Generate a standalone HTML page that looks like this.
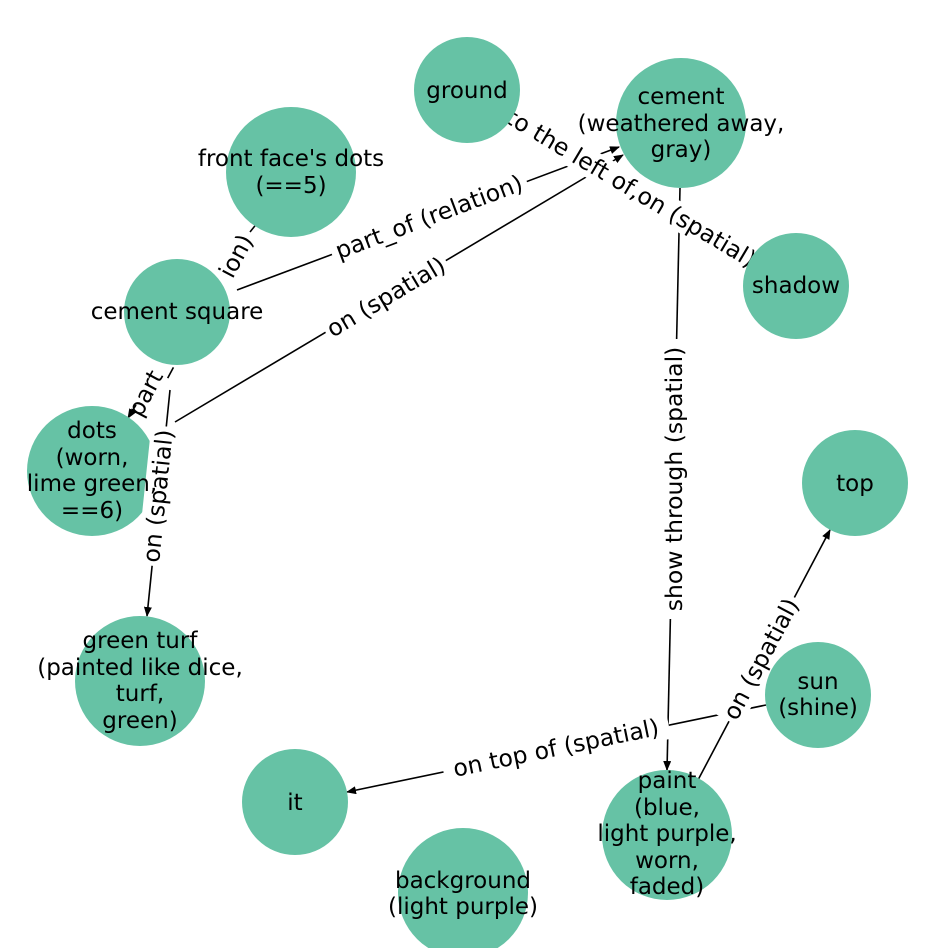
<!DOCTYPE html>
<html><head><meta charset="utf-8"><style>
html,body{margin:0;padding:0;background:#fff;}
svg{display:block;}
text{font-family:"DejaVu Sans","Liberation Sans",sans-serif;font-size:23px;fill:#000;}
.l text{font-size:23.5px;}
</style></head><body>
<svg width="948" height="948" viewBox="0 0 948 948" xmlns="http://www.w3.org/2000/svg">
<defs><marker id="a" markerWidth="10" markerHeight="8" refX="9" refY="4" orient="auto" markerUnits="userSpaceOnUse"><path d="M0,0 L10,4 L0,8 z" fill="#000"/></marker></defs>
<g stroke="#000" stroke-width="1.6" fill="none">
<line x1="250" y1="232" x2="262" y2="217"/>
<line x1="237" y1="290" x2="619" y2="147" marker-end="url(#a)"/>
<line x1="175" y1="422" x2="623" y2="155" marker-end="url(#a)"/>
<line x1="136" y1="405" x2="128" y2="418" marker-end="url(#a)"/>
<line x1="170" y1="390" x2="147" y2="616" marker-end="url(#a)"/>
<line x1="467" y1="90" x2="796" y2="286"/>
<line x1="680" y1="188" x2="667" y2="770" marker-end="url(#a)"/>
<line x1="766" y1="705" x2="347" y2="792" marker-end="url(#a)"/>
<line x1="698" y1="780" x2="830" y2="530" marker-end="url(#a)"/>
</g>
<g text-anchor="middle" dominant-baseline="central" class="l">
<g transform="translate(236,256) rotate(-62)"><text>ion)</text></g>
<g transform="translate(148,388) rotate(-61.9)"><text>part_</text></g>
<g transform="translate(429,217) rotate(-20.6)"><rect x="-104" y="-14" width="208" height="28" fill="#fff"/><text>part_of (relation)</text></g>
<g transform="translate(386,297) rotate(-30.6)"><rect x="-70" y="-14" width="140" height="28" fill="#fff"/><text>on (spatial)</text></g>
<g transform="translate(631,188) rotate(30.8)"><rect x="-148" y="-14" width="296" height="28" fill="#fff"/><text>to the left of,on (spatial)</text></g>
<g transform="translate(674,479) rotate(-90)"><rect x="-140" y="-14" width="280" height="28" fill="#fff"/><text>show through (spatial)</text></g>
<g transform="translate(556,748) rotate(-11.6)"><rect x="-115" y="-14" width="230" height="28" fill="#fff"/><text>on top of (spatial)</text></g>
<g transform="translate(761,659) rotate(-61.9)"><rect x="-70" y="-14" width="140" height="28" fill="#fff"/><text>on (spatial)</text></g>
</g>
<g fill="#66c2a5">
<circle cx="467" cy="90" r="53"/>
<circle cx="681" cy="123" r="65"/>
<circle cx="291" cy="172" r="65"/>
<circle cx="796" cy="286" r="53"/>
<circle cx="177" cy="312" r="53"/>
<circle cx="92" cy="471" r="65"/>
<circle cx="855" cy="483" r="53"/>
<circle cx="140" cy="681" r="65"/>
<circle cx="818" cy="695" r="53"/>
<circle cx="295" cy="802" r="53"/>
<circle cx="667" cy="835" r="65"/>
<circle cx="463" cy="893" r="65"/>
</g>
<g text-anchor="middle" dominant-baseline="central" class="l">
<g transform="translate(158,496) rotate(-84)"><rect x="-70" y="-14" width="140" height="28" fill="#fff"/><text>on (spatial)</text></g>
</g>
<g text-anchor="middle">
<text x="467" y="98">ground</text>
<text x="681" y="104">cement</text>
<text x="681" y="131">(weathered away,</text>
<text x="681" y="157">gray)</text>
<text x="291" y="166">front face's dots</text>
<text x="291" y="193">(==5)</text>
<text x="796" y="293">shadow</text>
<text x="177" y="319">cement square</text>
<text x="92" y="438">dots</text>
<text x="92" y="465">(worn,</text>
<text x="92" y="491">lime green,</text>
<text x="92" y="518">==6)</text>
<text x="855" y="491">top</text>
<text x="140" y="648">green turf</text>
<text x="140" y="675">(painted like dice,</text>
<text x="140" y="701">turf,</text>
<text x="140" y="728">green)</text>
<text x="818" y="689">sun</text>
<text x="818" y="715">(shine)</text>
<text x="295" y="810">it</text>
<text x="667" y="788">paint</text>
<text x="667" y="815">(blue,</text>
<text x="667" y="841">light purple,</text>
<text x="667" y="868">worn,</text>
<text x="667" y="894">faded)</text>
<text x="463" y="888">background</text>
<text x="463" y="914">(light purple)</text>
</g>
</svg>
</body></html>
